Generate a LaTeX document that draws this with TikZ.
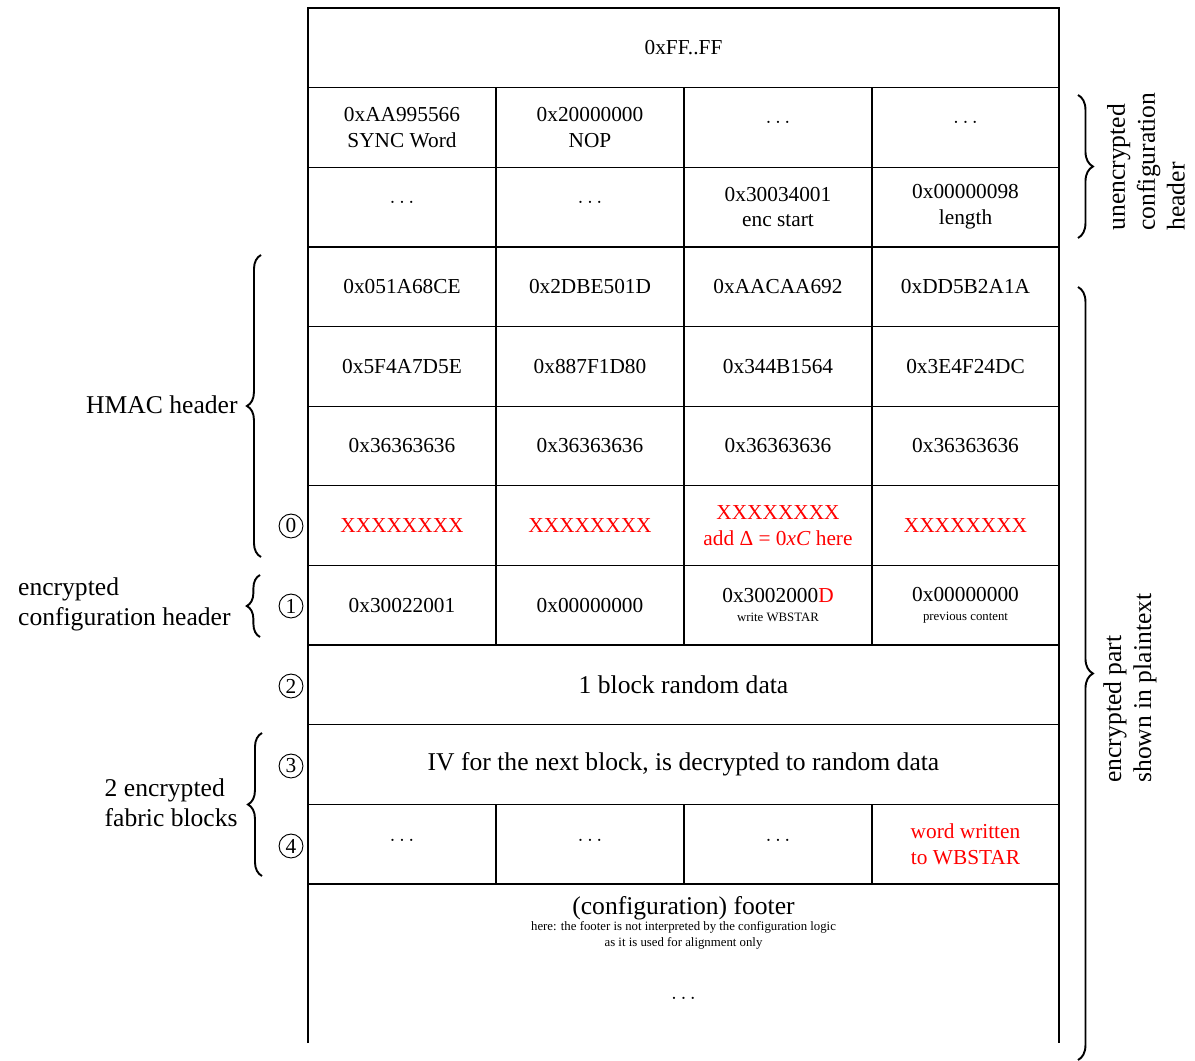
\documentclass[tikz,border=0pt]{standalone}
\usepackage{fontspec}
\setmainfont{Liberation Serif}
\usetikzlibrary{decorations.pathreplacing}

\begin{document}
\begin{tikzpicture}[x=0.469pt,y=-0.469pt,
	grid/.style={line width=0.6pt},
	cell/.style={align=center,inner sep=0pt,font=\normalsize},
	wide/.style={align=center,inner sep=0pt,font=\large},
	notetext/.style={align=center,inner sep=0pt,font=\fontsize{6}{7.5}\selectfont},
	marker/.style={circle,draw,line width=0.45pt,minimum size=11.2pt,inner sep=0pt,font=\normalsize},
	curly/.style={decorate,decoration={brace,amplitude=#1},line width=0.9pt},
	sidelabel/.style={align=left,inner sep=0pt,font=\large}]
	
	\useasboundingbox (0,0) rectangle (1195,1061);
	
	%Outer frame, open at the bottom
	\draw [grid] (308,1043) -- (308,8) -- (1059,8) -- (1059,1043) ;
	%Row lines
	\draw [grid] (308,87.6) -- (1059,87.6)  (308,167.3) -- (1059,167.3)  (308,246.9) -- (1059,246.9)
	(308,326.6) -- (1059,326.6)  (308,406.2) -- (1059,406.2)  (308,485.8) -- (1059,485.8)
	(308,565.5) -- (1059,565.5)  (308,645.1) -- (1059,645.1)  (308,724.8) -- (1059,724.8)
	(308,804.4) -- (1059,804.4)  (308,884) -- (1059,884) ;
	%Column lines
	\draw [grid] (496,87.6) -- (496,645.1)  (684,87.6) -- (684,645.1)  (872,87.6) -- (872,645.1) ;
	\draw [grid] (496,804.4) -- (496,884)  (684,804.4) -- (684,884)  (872,804.4) -- (872,884) ;
	
	% Row 0
	\node [cell] (ffff) at (683.5,47.8) {0xFF..FF};
	% Row 1
	\node [cell] (sync) at (402,127.5) {0xAA995566\\SYNC Word};
	\node [cell] (nop) at (590,127.5) {0x20000000\\NOP};
	\node [cell] (dotsa) at (778,122) {$\dots$};
	\node [cell] (dotsb) at (965.5,122) {$\dots$};
	% Row 2
	\node [cell] (dotsc) at (402,202) {$\dots$};
	\node [cell] (dotsd) at (590,202) {$\dots$};
	\node [cell] (encstart) at (778,207) {0x30034001\\enc start};
	\node [cell] (length) at (965.5,207) {0x00000098\\length};
	% Row 3
	\node [cell] (hmaca) at (402,286.8) {0x051A68CE};
	\node [cell] (hmacb) at (590,286.8) {0x2DBE501D};
	\node [cell] (hmacc) at (778,286.8) {0xAACAA692};
	\node [cell] (hmacd) at (965.5,286.8) {0xDD5B2A1A};
	% Row 4
	\node [cell] (hmace) at (402,366.4) {0x5F4A7D5E};
	\node [cell] (hmacf) at (590,366.4) {0x887F1D80};
	\node [cell] (hmacg) at (778,366.4) {0x344B1564};
	\node [cell] (hmach) at (965.5,366.4) {0x3E4F24DC};
	% Row 5
	\node [cell] (ipada) at (402,446) {0x36363636};
	\node [cell] (ipadb) at (590,446) {0x36363636};
	\node [cell] (ipadc) at (778,446) {0x36363636};
	\node [cell] (ipadd) at (965.5,446) {0x36363636};
	% Row 6
	\node [cell,text=red] (xa) at (402,525.7) {XXXXXXXX};
	\node [cell,text=red] (xb) at (590,525.7) {XXXXXXXX};
	\node [cell,text=red] (xc) at (778,525.7) {XXXXXXXX\\add Δ = 0\textit{xC} here};
	\node [cell,text=red] (xd) at (965.5,525.7) {XXXXXXXX};
	% Row 7
	\node [cell] (cmda) at (402,605.3) {0x30022001};
	\node [cell] (cmdb) at (590,605.3) {0x00000000};
	\node [cell] (wbstar) at (778,605.3) {0x3002000\textcolor{red}{D}\\[-3pt]{\fontsize{6}{7}\selectfont write WBSTAR}};
	\node [cell] (prev) at (965.5,605.3) {0x00000000\\[-3pt]{\fontsize{6}{7}\selectfont previous content}};
	% Row 8 and 9
	\node [wide] (random) at (683.5,685) {1 block random data};
	\node [wide] (iv) at (683.5,764.6) {IV for the next block, is decrypted to random data};
	% Row 10
	\node [cell] (dotse) at (402,840) {$\dots$};
	\node [cell] (dotsf) at (590,840) {$\dots$};
	\node [cell] (dotsg) at (778,840) {$\dots$};
	\node [cell,text=red] (written) at (965.5,844.5) {word written\\to WBSTAR};
	% Footer
	\node [wide] (footer) at (683.5,908) {(configuration) footer};
	\node [notetext] (footernote) at (683.5,935.5) {here: the footer is not interpreted by the configuration logic\\as it is used for alignment only};
	\node [cell] (footerdots) at (683.5,998) {$\dots$};
	
	% Step markers
	\node [marker] (stepzero) at (291,526) {0};
	\node [marker] (stepone) at (291,606) {1};
	\node [marker] (steptwo) at (291,686) {2};
	\node [marker] (stepthree) at (291,766) {3};
	\node [marker] (stepfour) at (291,846) {4};
	
	% Left braces
	\coordinate (hmactop) at (261,255);
	\coordinate (hmacbot) at (261,557);
	\coordinate (enctop) at (260,575);
	\coordinate (encbot) at (260,637);
	\coordinate (fabtop) at (262,733);
	\coordinate (fabbot) at (262,876);
	\draw [curly=6.6pt] (hmacbot) -- (hmactop) ;
	\draw [curly=6.2pt] (encbot) -- (enctop) ;
	\draw [curly=6.6pt] (fabbot) -- (fabtop) ;
	\node [sidelabel,anchor=east] (hmac) at (238,405) {HMAC header};
	\node [sidelabel,anchor=east] (encconf) at (231,604) {encrypted\\configuration header};
	\node [sidelabel,anchor=east] (fabric) at (238,803) {2 encrypted\\fabric blocks};
	
	% Right braces
	\coordinate (unenctop) at (1078,95);
	\coordinate (unencbot) at (1078,238);
	\coordinate (plaintop) at (1078,287);
	\coordinate (plainbot) at (1078,1060);
	\draw [curly=7pt] (unenctop) -- (unencbot) ;
	\draw [curly=7pt] (plaintop) -- (plainbot) ;
	\node [sidelabel,rotate=90,anchor=west] (unenc) at (1146,231) {unencrypted\\configuration\\header};
	\node [sidelabel,rotate=90,anchor=west] (plain) at (1130,783) {encrypted part\\shown in plaintext};
	
\end{tikzpicture}
\end{document}
